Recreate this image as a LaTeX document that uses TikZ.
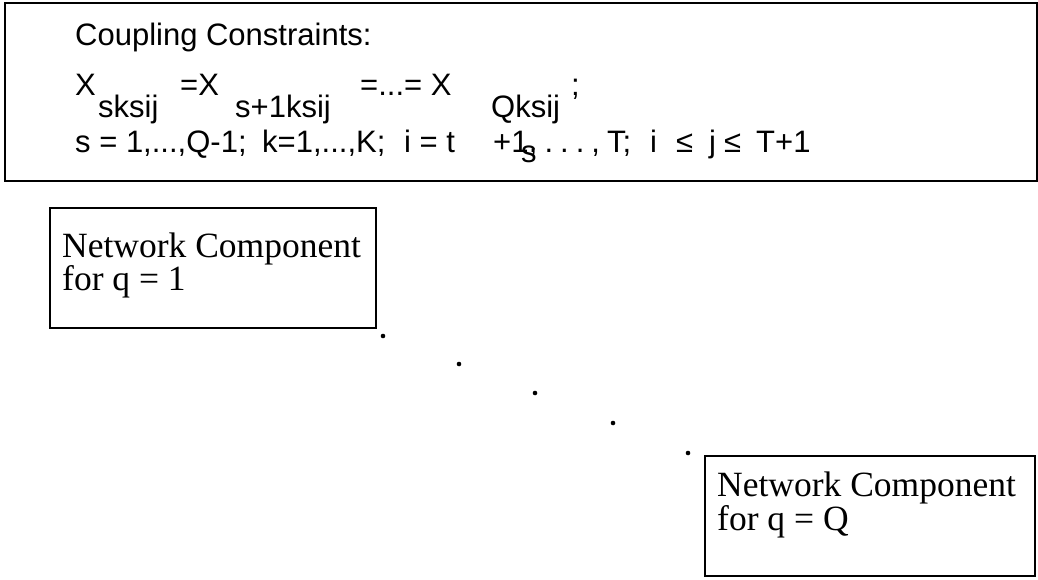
\documentclass[tikz,border=0pt]{standalone}
\usepackage{fontspec}
\setsansfont{Liberation Sans}
\setmainfont{Liberation Serif}
\begin{document}
\begin{tikzpicture}[x=1pt,y=-1pt,
  frame/.style={draw=black, line width=1.9pt, rectangle, inner sep=0pt, anchor=north west},
  sanstext/.style={anchor=base west, inner sep=0pt, font=\fontsize{31}{37}\selectfont\sffamily},
  sertext/.style={anchor=base west, inner sep=0pt, font=\fontsize{35.5}{38}\selectfont\rmfamily},
  dotmark/.style={circle, fill=black, inner sep=0pt, minimum size=4.6pt}]
\useasboundingbox (0,0) rectangle (1038,579);
% top box
\node[frame, minimum width=1032pt, minimum height=178pt] (top) at (4,2) {};
\node[sanstext] (cc) at (75,45) {Coupling Constraints:};
\node[sanstext] (x1) at (75,95) {X};
\node[sanstext] (s1) at (98,117) {sksij};
\node[sanstext] (x2) at (180,95) {=X};
\node[sanstext] (s2) at (235,117) {s+1ksij};
\node[sanstext] (x3) at (360,95) {=...= X};
\node[sanstext] (s3) at (491,117) {Qksij};
\node[sanstext] (semi) at (571,95) {;};
\node[sanstext] (l3a) at (75,152) {s = 1,...,Q-1;};
\node[sanstext] (l3b) at (262,152) {k=1,...,K;};
\node[sanstext] (l3c) at (404,152) {i = t};
\node[sanstext] (l3d) at (493,152) {+1};
\node[sanstext] (l3s) at (521,162) {s};
\node[sanstext] (l3dd) at (l3d.base east) {,\hspace{7pt}.\hspace{7pt}.\hspace{7pt}.\hspace{7pt},\hspace{7pt}T;};
\node[sanstext] (l3e) at (650,152) {i};
\node[sanstext] (l3f) at (676,152) {≤};
\node[sanstext] (l3g) at (709,152) {j};
\node[sanstext] (l3h) at (724,152) {≤};
\node[sanstext] (l3i) at (756,152) {T+1};
% network component boxes
\node[frame, minimum width=326pt, minimum height=120pt] (nc1) at (49,207) {};
\node[sertext] (nc1a) at (62,257) {Network Component};
\node[sertext] (nc1b) at (62,290) {for q = 1};
\node[frame, minimum width=330pt, minimum height=120pt] (ncQ) at (704,455) {};
\node[sertext] (ncQa) at (717,496) {Network Component};
\node[sertext] (ncQb) at (717,530) {for q = Q};
% dots
\node[dotmark] (d1) at (383,336) {};
\node[dotmark] (d2) at (459,364) {};
\node[dotmark] (d3) at (535,393) {};
\node[dotmark] (d4) at (613,423) {};
\node[dotmark] (d5) at (688,453) {};
\end{tikzpicture}
\end{document}
